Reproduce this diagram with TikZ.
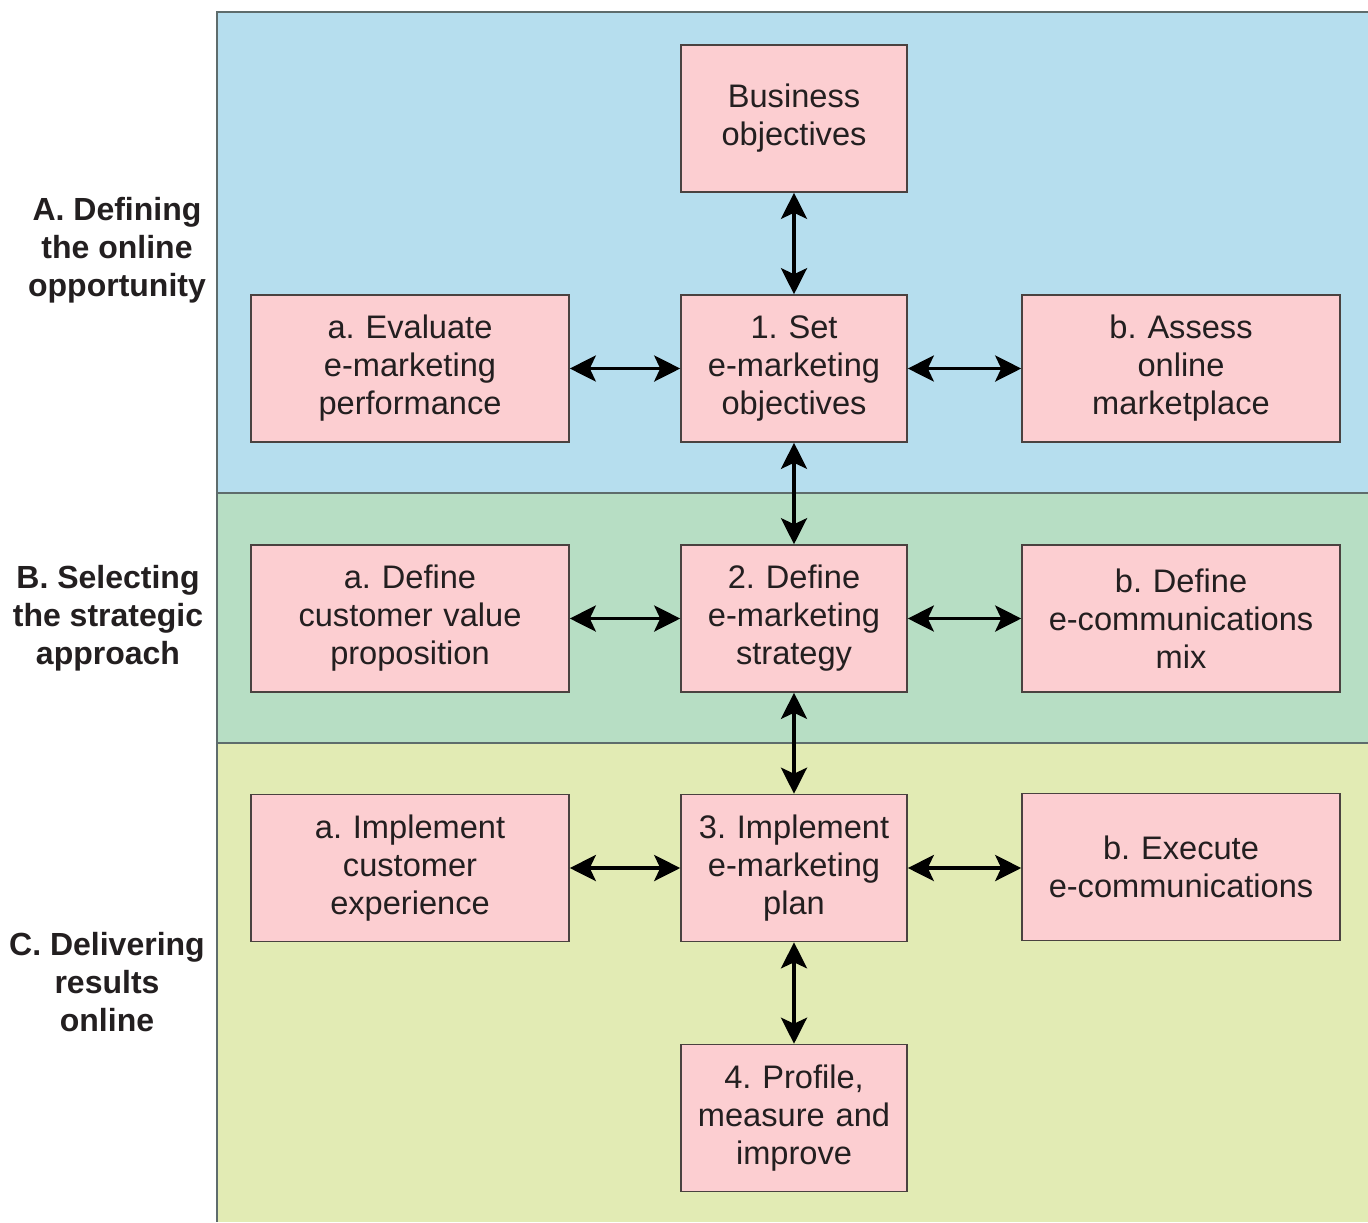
\documentclass[tikz,border=0pt]{standalone}
\usepackage{fontspec}
\setmainfont{Liberation Sans}
\usetikzlibrary{arrows.meta}
\frenchspacing
\definecolor{bandA}{HTML}{B6DEEE}
\definecolor{bandB}{HTML}{B7DEC4}
\definecolor{bandC}{HTML}{E2EBB4}
\definecolor{boxfill}{HTML}{FCCED1}
\definecolor{boxline}{HTML}{4A4240}
\definecolor{bandline}{HTML}{5E6C6C}
\definecolor{ink}{HTML}{231F20}
\begin{document}
\begin{tikzpicture}[x=0.5pt,y=-0.5pt,
  stagebox/.style={draw=boxline, line width=0.8pt, fill=boxfill, text=ink,
    minimum height=73.5pt, inner sep=0pt, align=center,
    font=\fontsize{16.3pt}{19pt}\selectfont},
  narrow/.style={stagebox, minimum width=113pt, text width=110pt},
  wide/.style={stagebox, minimum width=159pt, text width=156pt},
  phase/.style={align=center, text=ink, inner sep=0pt,
    font=\fontsize{16pt}{19pt}\selectfont\bfseries},
  tip/.tip={Stealth[length=13pt,width=13pt,inset=3pt]},
  link/.style={line width=1.8pt, black, tip-tip}
]
\useasboundingbox (0,0) rectangle (1368,1222);
\fill[white] (0,0) rectangle (1368,1222);

% phase bands
\fill[bandA] (217,12) rectangle (1368,493);
\fill[bandB] (217,493) rectangle (1368,743);
\fill[bandC] (217,743) rectangle (1368,1222);
\draw[bandline, line width=1pt] (1368,12) -- (217,12) -- (217,1222);
\draw[bandline, line width=1pt] (217,493) -- (1368,493);
\draw[bandline, line width=1pt] (217,743) -- (1368,743);

% phase labels
\node[phase] (pa) at (117,250) {A. Defining\\the online\\opportunity};
\node[phase] (pb) at (108,618) {B. Selecting\\the strategic\\approach};
\node[phase] (pc) at (107,982) {C. Delivering\\results\\online};

% boxes
\node[narrow] (bo) at (794,118.5) {Business\\objectives};

\node[wide]   (ea) at (410,368.5) {a. Evaluate\\e-marketing\\performance};
\node[narrow] (s1) at (794,368.5) {1. Set\\e-marketing\\objectives};
\node[wide]   (eb) at (1181,368.5) {b. Assess\\online\\marketplace};

\node[wide]   (da) at (410,618.5) {a. Define\\customer value\\proposition};
\node[narrow] (s2) at (794,618.5) {2. Define\\e-marketing\\strategy};
\node[wide]   (db) at (1181,618.5) {b. Define\\e-communications\\mix};

\node[wide]   (ia) at (410,868) {a. Implement\\customer\\experience};
\node[narrow] (s3) at (794,868) {3. Implement\\e-marketing\\plan};
\node[wide]   (ib) at (1181,867) {b. Execute\\e-communications};

\node[narrow] (s4) at (794,1118) {4. Profile,\\measure and\\improve};

% connectors
\draw[link] (bo) -- (s1);
\draw[link] (s1) -- (s2);
\draw[link] (s2) -- (s3);
\draw[link] (s3) -- (s4);
\draw[link] (ea) -- (s1);
\draw[link] (s1) -- (eb);
\draw[link] (da) -- (s2);
\draw[link] (s2) -- (db);
\draw[link] (ia) -- (s3);
\draw[link] (s3) -- (s3 -| ib.west);
\end{tikzpicture}
\end{document}
